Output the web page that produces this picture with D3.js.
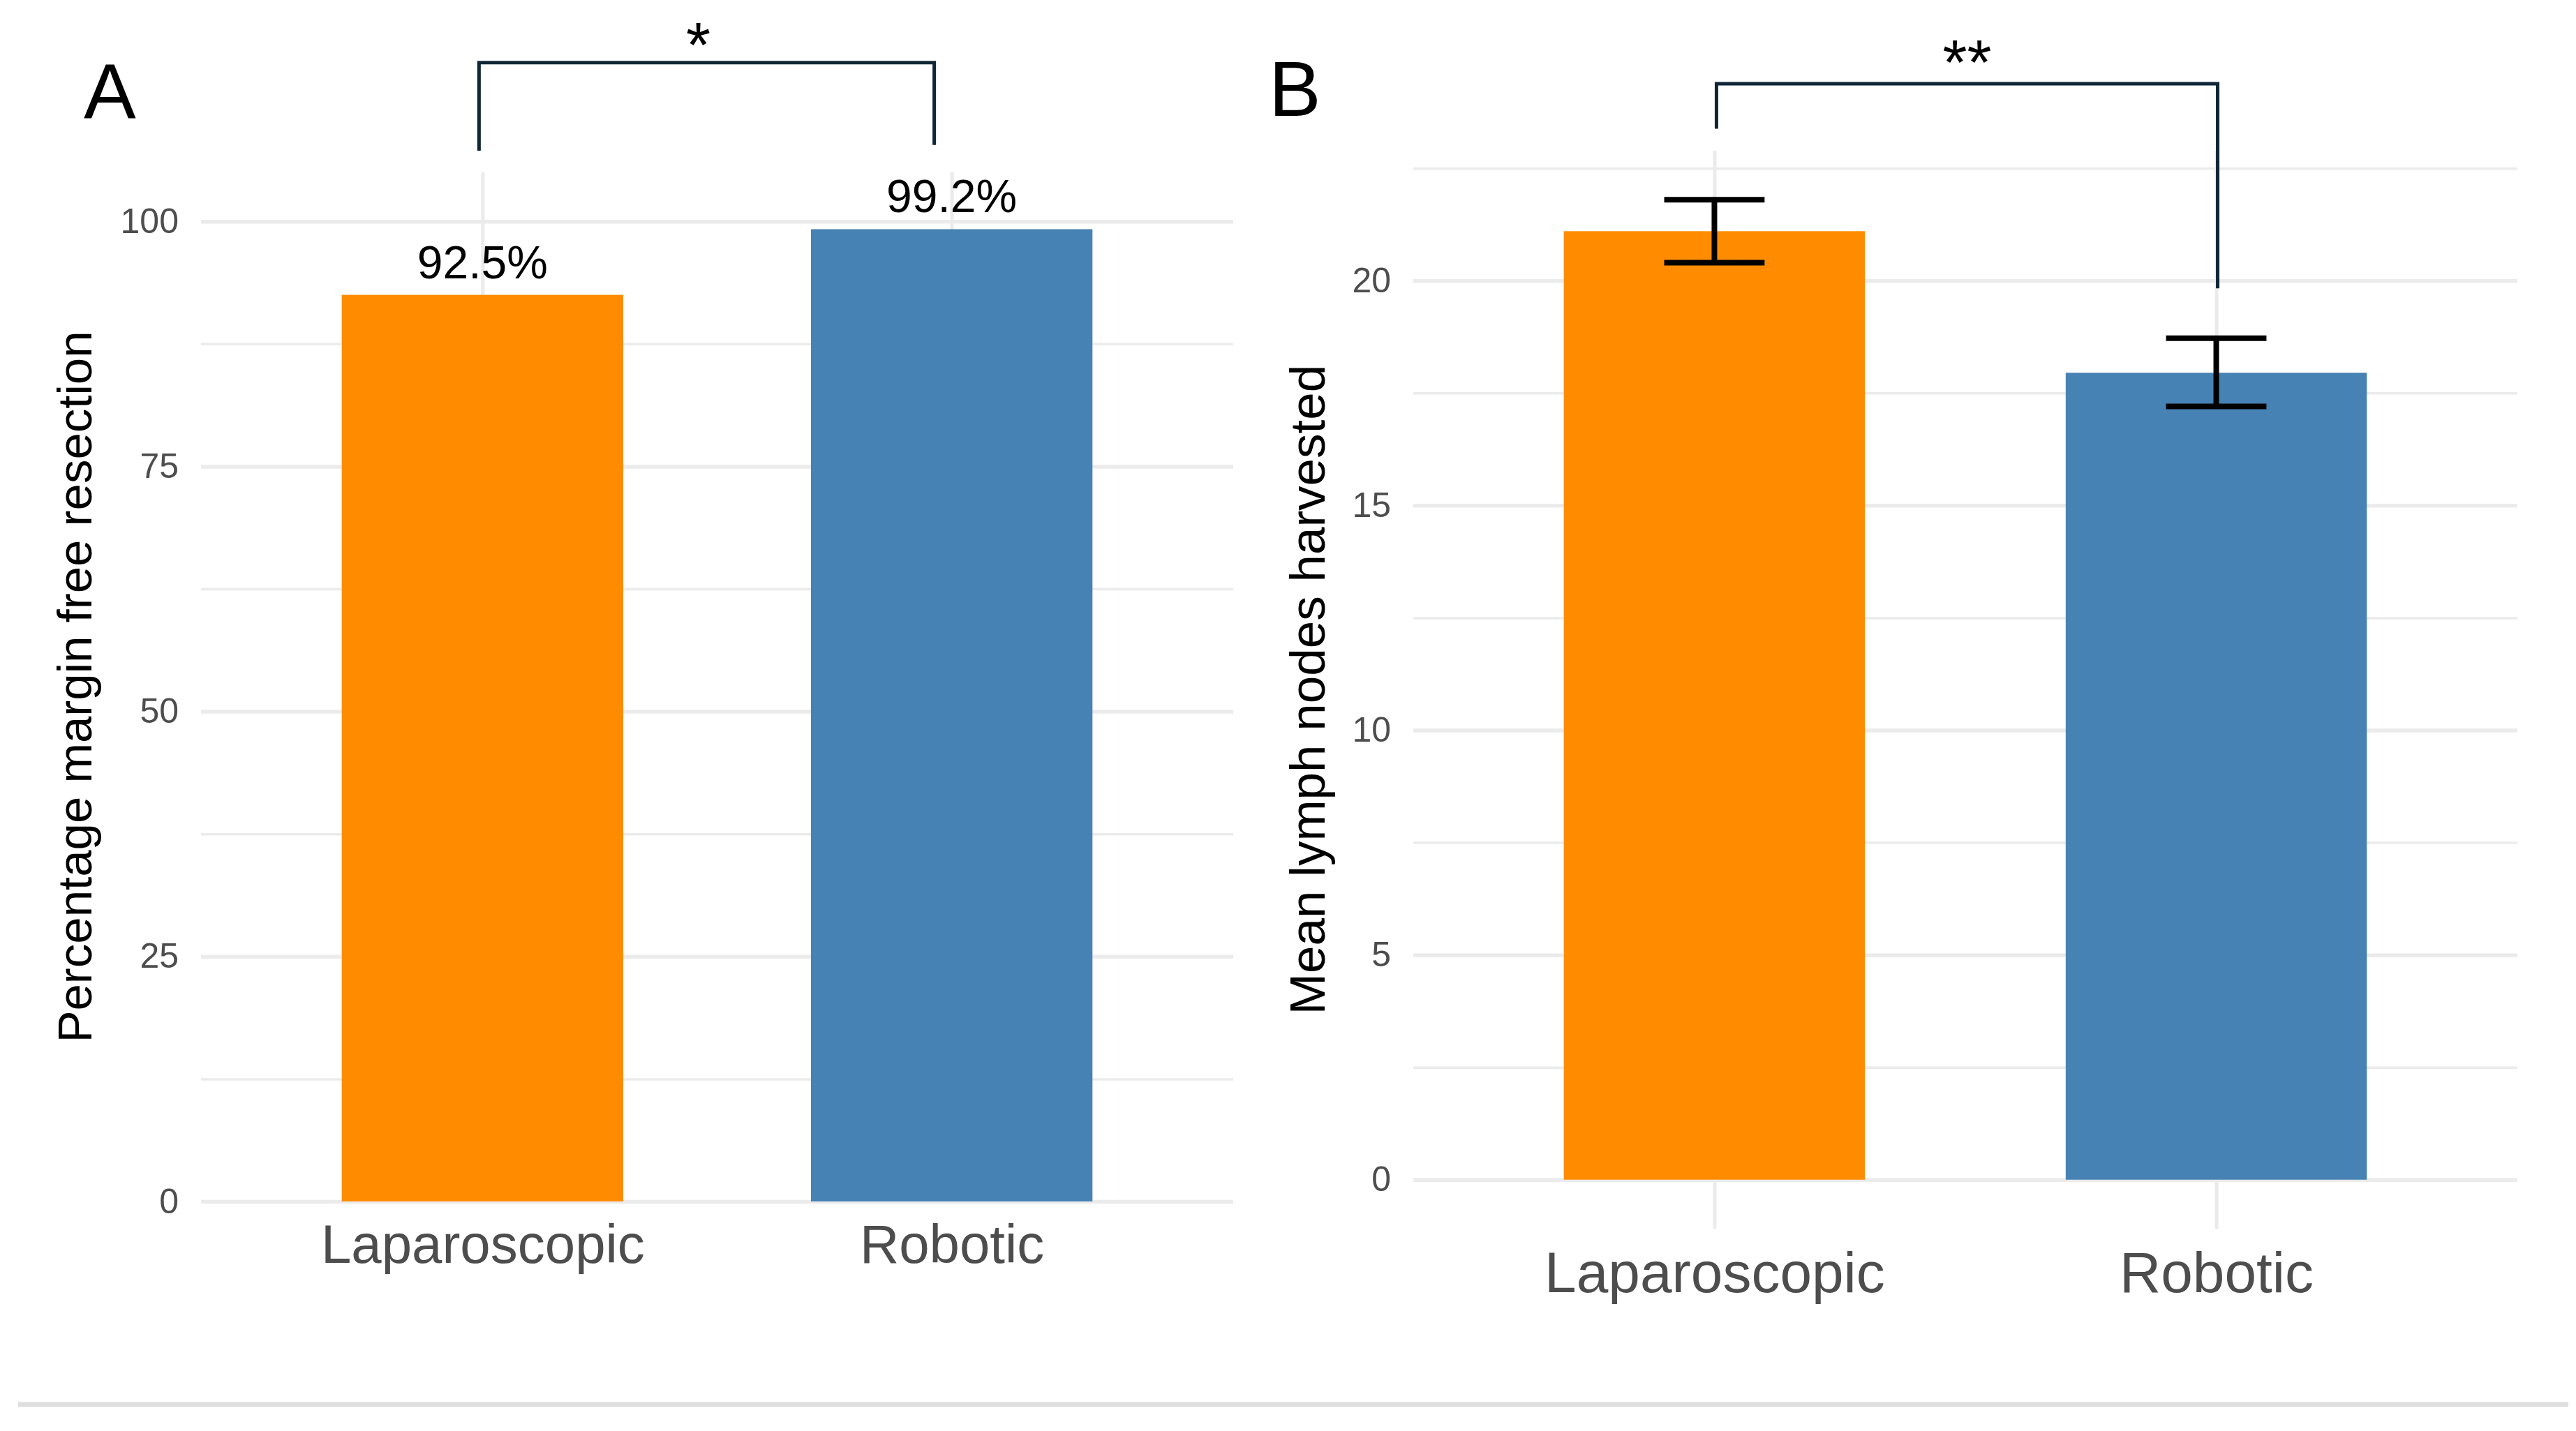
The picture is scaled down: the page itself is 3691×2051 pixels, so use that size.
<!DOCTYPE html>
<meta charset="utf-8">
<head>
<style>
body { margin: 0; background: #fff; }
svg { font-family: "Liberation Sans", Arial, sans-serif; }
.grid line { stroke: #ebebeb; }
.grid path { display: none; }
.axis path { display: none; }
.axis text { fill: #4d4d4d; }
</style>
</head>
<body>
<script src="https://cdn.jsdelivr.net/npm/d3@7"></script>
<script>
var categories = ["Laparoscopic", "Robotic"];
var barColors = ["#FF8C00", "#4682B4"];

// panel A
var marginFreePct = [92.5, 99.2];
var marginLabels = ["92.5%", "99.2%"];
var pctTicks = [0, 25, 50, 75, 100];
var pctMinor = [12.5, 37.5, 62.5, 87.5];

// panel B
var lymphMean = [21.1, 17.95];
var lymphLow = [20.4, 17.2];
var lymphHigh = [21.8, 18.72];
var nodeTicks = [0, 5, 10, 15, 20];
var nodeMinor = [2.5, 7.5, 12.5, 17.5, 22.5];

var W = 3691, H = 2051;
var svg = d3.select("body").append("svg")
    .attr("width", W)
    .attr("height", H);

function drawPanel(p) {
    var g = svg.append("g");
    var x = d3.scalePoint().domain(categories).range([p.left, p.right]).padding(0.6);
    var y = d3.scaleLinear().domain(p.domain).range([p.bottom, p.top]);
    var step = x.step();

    // grid
    g.append("g").attr("class", "grid")
        .attr("transform", "translate(" + p.left + ",0)")
        .call(d3.axisLeft(y).tickValues(p.minor).tickSize(-(p.right - p.left)).tickFormat(""))
        .selectAll("line").attr("stroke-width", 3.5);
    g.append("g").attr("class", "grid")
        .attr("transform", "translate(" + p.left + ",0)")
        .call(d3.axisLeft(y).tickValues(p.ticks).tickSize(-(p.right - p.left)).tickFormat(""))
        .selectAll("line").attr("stroke-width", 5.5);
    g.append("g").attr("class", "grid")
        .attr("transform", "translate(0," + p.bottom + ")")
        .call(d3.axisBottom(x).tickSize(-(p.bottom - p.top)).tickFormat(""))
        .selectAll("line").attr("stroke-width", 5);

    // bars
    g.selectAll(".bar")
        .data(p.values)
        .enter().append("rect")
        .attr("x", function (d, i) { return x(categories[i]) - step * 0.3; })
        .attr("width", step * 0.6)
        .attr("y", function (d) { return y(d); })
        .attr("height", function (d) { return y(0) - y(d); })
        .attr("fill", function (d, i) { return barColors[i]; });

    // y axis labels
    g.append("g").attr("class", "axis")
        .attr("transform", "translate(" + p.left + ",0)")
        .call(d3.axisLeft(y).tickValues(p.ticks).tickSize(0).tickPadding(32))
        .selectAll("text").style("font-size", "50px");

    // x axis labels
    g.append("g").attr("class", "axis")
        .attr("transform", "translate(0," + p.bottom + ")")
        .call(d3.axisBottom(x).tickSize(0).tickPadding(33))
        .selectAll("text").style("font-size", p.xFont + "px");

    // y title
    g.append("text")
        .attr("transform", "translate(" + p.titleX + "," + ((p.top + p.bottom) / 2) + ") rotate(-90)")
        .attr("text-anchor", "middle")
        .style("font-size", p.titleFont + "px")
        .attr("fill", "#000")
        .text(p.title);

    // panel letter
    g.append("text")
        .attr("x", p.letterX).attr("y", p.letterY)
        .style("font-size", "112px")
        .text(p.letter);

    // significance bracket
    var b = p.bracket;
    var bx1 = x(categories[0]) + b.dx[0], bx2 = x(categories[1]) + b.dx[1];
    g.append("path")
        .attr("d", "M" + bx1 + "," + y(b.left) + "V" + y(b.top) + "H" + bx2 + "V" + y(b.right))
        .attr("fill", "none")
        .attr("stroke", "#0f2636")
        .attr("stroke-width", 5);
    g.append("text")
        .attr("x", (bx1 + bx2) / 2 + b.starDx)
        .attr("y", p.starY)
        .attr("text-anchor", "middle")
        .style("font-size", "90px")
        .text(b.label);

    return { g: g, x: x, y: y, step: step };
}

var a = drawPanel({
    left: 288, right: 1767, top: 247, bottom: 1722,
    domain: [0, 105], ticks: pctTicks, minor: pctMinor,
    values: marginFreePct, xFont: 78,
    title: "Percentage margin free resection", titleX: 131, titleFont: 69,
    letter: "A", letterX: 120, letterY: 169,
    bracket: { left: 107.2, top: 116.2, right: 107.8, dx: [-5, -25], label: "*", starDx: -12 },
    starY: 96
});

a.g.selectAll(".vlabel")
    .data(marginLabels)
    .enter().append("text")
    .attr("x", function (d, i) { return a.x(categories[i]); })
    .attr("y", function (d, i) { return a.y(marginFreePct[i]) - 24; })
    .attr("text-anchor", "middle")
    .style("font-size", "66px")
    .text(function (d) { return d; });

var b = drawPanel({
    left: 2025, right: 3607, top: 216, bottom: 1761,
    domain: [-1.09, 22.89], ticks: nodeTicks, minor: nodeMinor,
    values: lymphMean, xFont: 82,
    title: "Mean lymph nodes harvested", titleX: 1898, titleFont: 71,
    letter: "B", letterX: 1818, letterY: 166,
    bracket: { left: 23.38, top: 24.38, right: 19.83, dx: [3, 2], label: "**", starDx: 0 },
    starY: 121
});

// error bars
var cap = b.step * 0.1;
var eb = b.g.selectAll(".err")
    .data(lymphMean)
    .enter().append("g")
    .attr("stroke", "#000")
    .attr("stroke-width", 8)
    .attr("fill", "none");
eb.append("line")
    .attr("x1", function (d, i) { return b.x(categories[i]); })
    .attr("x2", function (d, i) { return b.x(categories[i]); })
    .attr("y1", function (d, i) { return b.y(lymphLow[i]); })
    .attr("y2", function (d, i) { return b.y(lymphHigh[i]); });
eb.append("line")
    .attr("x1", function (d, i) { return b.x(categories[i]) - cap; })
    .attr("x2", function (d, i) { return b.x(categories[i]) + cap; })
    .attr("y1", function (d, i) { return b.y(lymphHigh[i]); })
    .attr("y2", function (d, i) { return b.y(lymphHigh[i]); });
eb.append("line")
    .attr("x1", function (d, i) { return b.x(categories[i]) - cap; })
    .attr("x2", function (d, i) { return b.x(categories[i]) + cap; })
    .attr("y1", function (d, i) { return b.y(lymphLow[i]); })
    .attr("y2", function (d, i) { return b.y(lymphLow[i]); });

// separator line at bottom
svg.append("line")
    .attr("x1", 26).attr("x2", 3680)
    .attr("y1", 2013).attr("y2", 2013)
    .attr("stroke", "#dedede")
    .attr("stroke-width", 7);
</script>
</body>
